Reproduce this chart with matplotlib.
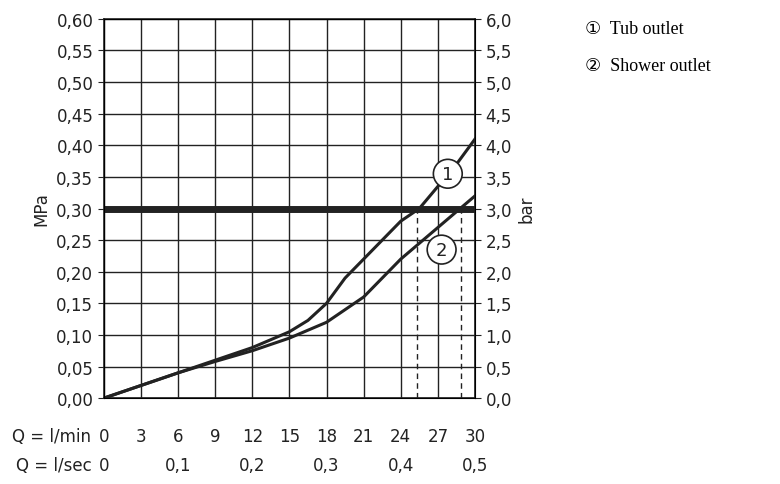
import matplotlib.pyplot as plt
import matplotlib.transforms as mtransforms

# data (x in l/min, y in MPa)
q_tub = [0, 3, 6, 9, 12, 15, 16.5, 18, 19.5, 21, 24, 25.5, 27, 28.5, 30]
p_tub = [0, 0.02, 0.04, 0.06, 0.08, 0.105, 0.123, 0.15, 0.19, 0.22, 0.28, 0.30, 0.335, 0.37, 0.41]
q_shower = [0, 3, 6, 9, 12, 15, 18, 21, 24, 27, 28.8, 30]
p_shower = [0, 0.02, 0.04, 0.058, 0.075, 0.095, 0.12, 0.16, 0.22, 0.27, 0.30, 0.32]
dash_x = [25.3, 28.9]
lmin_ticks = [0, 3, 6, 9, 12, 15, 18, 21, 24, 27, 30]
lsec_labels = ['0', '0,1', '0,2', '0,3', '0,4', '0,5']
legend_items = ['\u2460  Tub outlet', '\u2461  Shower outlet']

plt.rcParams['font.family'] = ['DejaVu Sans']
fig = plt.figure(figsize=(7.8, 4.85), dpi=100)
ax = fig.add_axes([0.133, 0.177, 0.476, 0.782])
col = '#222222'

ax.set_xlim(0, 30)
ax.set_ylim(0, 0.60)
ax.set_xticks(lmin_ticks)
ax.set_yticks([i * 0.05 for i in range(13)])
ax.grid(True, color=col, lw=1.0)
ax.set_axisbelow(True)
for s in ax.spines.values():
    s.set_color(col)
    s.set_linewidth(1.2)
ax.tick_params(axis='x', length=0, labelbottom=False)
ax.tick_params(axis='y', direction='out', length=4, colors=col, labelsize=12)
ax.set_yticklabels([f'{i * 0.05:.2f}'.replace('.', ',') for i in range(13)])
ax.set_ylabel('MPa', fontsize=12, color=col)

ax2 = ax.twinx()
ax2.set_ylim(0, 6.0)
ax2.set_yticks([i * 0.5 for i in range(13)])
ax2.set_yticklabels([f'{i * 0.5:.1f}'.replace('.', ',') for i in range(13)])
ax2.tick_params(axis='y', direction='out', length=4, colors=col, labelsize=12)
ax2.set_ylabel('bar', fontsize=12, color=col)

ax.axhline(0.30, color=col, lw=5)
ax.plot(q_tub, p_tub, color=col, lw=2.2)
ax.plot(q_shower, p_shower, color=col, lw=2.2)
ax.vlines(dash_x, 0, 0.30, colors=col, linestyles=(0, (4, 3)), lw=1)

for (x, y, t) in [(27.8, 0.355, '1'), (27.3, 0.235, '2')]:
    ax.text(x, y, t, ha='center', va='center', fontsize=13, color=col,
            bbox=dict(boxstyle='circle,pad=0.3', fc='white', ec=col, lw=1.2))

tr = mtransforms.blended_transform_factory(ax.transData, ax.transAxes)
for v in lmin_ticks:
    ax.text(v, -0.1, str(v), transform=tr, ha='center', va='center', fontsize=12, color=col)
for i, t in enumerate(lsec_labels):
    ax.text(i * 6, -0.177, t, transform=tr, ha='center', va='center', fontsize=12, color=col)
ax.text(-1.0, -0.1, 'Q = l/min', transform=tr, ha='right', va='center', fontsize=12, color=col)
ax.text(-1.0, -0.177, 'Q = l/sec', transform=tr, ha='right', va='center', fontsize=12, color=col)

for i, t in enumerate(legend_items):
    fig.text(0.75, 0.94 - i * 0.077, t, fontsize=13, color='black',
             family=['Liberation Serif', 'DejaVu Sans'], va='center')

fig.savefig('out.png', dpi=100)
